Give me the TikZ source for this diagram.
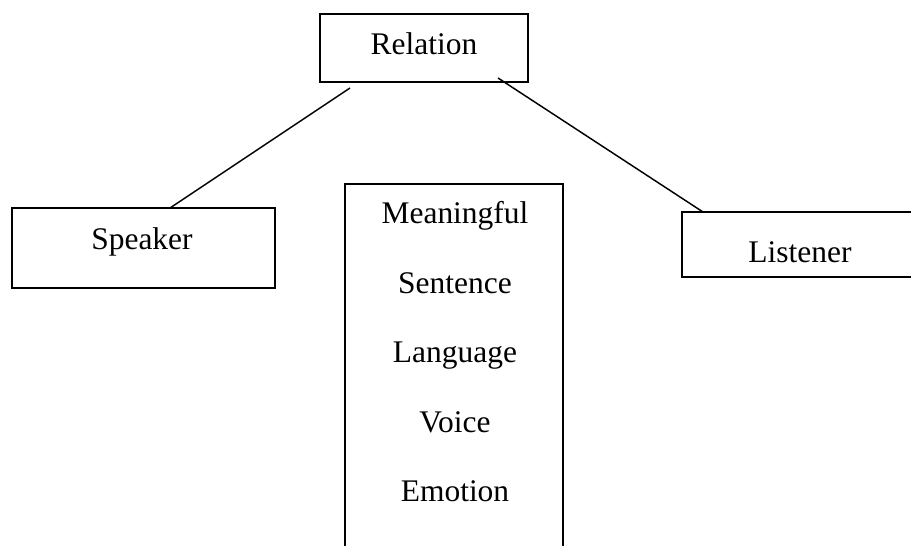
\documentclass[tikz,border=0pt]{standalone}
\usepackage{fontspec}
\setmainfont{Liberation Serif}
\begin{document}
\begin{tikzpicture}[x=0.75pt,y=-0.75pt,
  box/.style={draw, line width=1.4pt, inner sep=0pt, rectangle},
  lbl/.style={anchor=base, inner sep=0pt, font=\fontsize{23.6}{28}\selectfont},
  conn/.style={line width=1.1pt}]
\useasboundingbox (0,0) rectangle (911,546);
\clip (0,0) rectangle (911,546);
% boxes
\node[box, minimum width=208*0.75pt, minimum height=68*0.75pt] (rel) at (424,48) {};
\node[box, minimum width=263*0.75pt, minimum height=80*0.75pt] (spk) at (143.5,248) {};
\node[box, minimum width=250*0.75pt, minimum height=65*0.75pt] (lis) at (807,244.5) {};
\node[box, minimum width=218*0.75pt, minimum height=380*0.75pt] (mid) at (454,374) {};
% labels
\node[lbl] (relt) at (424,54) {Relation};
\node[lbl] (spkt) at (142,249) {Speaker};
\node[lbl] (list) at (800,262) {Listener};
\node[lbl] (m1) at (455,223) {Meaningful};
\node[lbl] (m2) at (455,293) {Sentence};
\node[lbl] (m3) at (455,362) {Language};
\node[lbl] (m4) at (455,432) {Voice};
\node[lbl] (m5) at (455,501) {Emotion};
% connectors
\coordinate (ra) at (350,88);
\coordinate (rb) at (498,78);
\coordinate (sa) at (170,208);
\coordinate (la) at (703,212);
\draw[conn] (ra) -- (sa);
\draw[conn] (rb) -- (la);
\end{tikzpicture}
\end{document}
